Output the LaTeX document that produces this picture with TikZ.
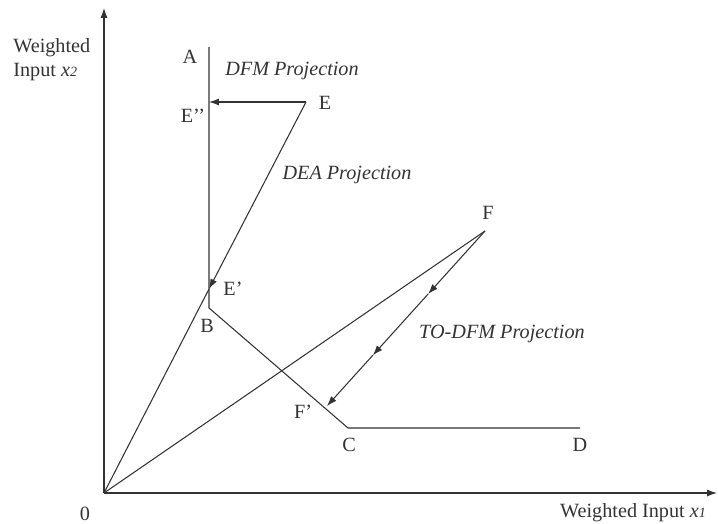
\documentclass[tikz,border=0pt]{standalone}
\usepackage{fontspec}
\setmainfont{Liberation Serif}
\usetikzlibrary{arrows.meta, calc}
\definecolor{inkgray}{gray}{0.2}

\begin{document}
\begin{tikzpicture}[
        x=0.02cm,
        y=-0.02cm,
        axis/.style={line width=0.6pt, inkgray, -{Latex[length=2mm, width=1.4mm]}},
        frontier/.style={line width=0.6pt, inkgray},
        ray/.style={line width=0.6pt, inkgray},
        proj/.style={line width=0.6pt, inkgray, -{Latex[length=2mm, width=1.4mm]}},
        pointlabel/.style={font=\fontsize{11.5}{13}\selectfont, text=inkgray, inner sep=0pt},
        projlabel/.style={font=\fontsize{11.5}{13}\selectfont\itshape, text=inkgray, inner sep=0pt},
        axislabel/.style={font=\fontsize{11.5}{13.6}\selectfont, text=inkgray, inner sep=0pt, align=left}
    ]
        \useasboundingbox (0,0) rectangle (718,524);

        % points of the figure
        \coordinate (O) at (104,493);
        \coordinate (xend) at (717,493);
        \coordinate (yend) at (104,8);
        \coordinate (A) at (209,47);
        \coordinate (B) at (209,308);
        \coordinate (C) at (348,428);
        \coordinate (D) at (580,428);
        \coordinate (E) at (306,102);
        \coordinate (Epp) at (209,102);
        \coordinate (Ep) at (209,289);
        \coordinate (F) at (485,231);
        \coordinate (Fp) at (327,406);
        \coordinate (Fm1) at ($(F)!0.36!(Fp)$);
        \coordinate (Fm2) at ($(F)!0.71!(Fp)$);

        % axes
        \draw[axis] (O) -- (xend);
        \draw[axis] (O) -- (yend);

        % frontier A-B-C-D
        \draw[frontier] (A) -- (B) -- (C) -- (D);

        % rays from the origin
        \draw[ray] (O) -- (Ep);
        \draw[ray] (O) -- (F);

        % projections
        \draw[proj] (E) -- (Epp);
        \draw[proj] (E) -- (Ep);
        \draw[proj] (F) -- (Fm1);
        \draw[proj] (Fm1) -- (Fm2);
        \draw[proj] (Fm2) -- (Fp);

        % labels
        \node[pointlabel] (lA) at (190,57) {A};
        \node[pointlabel] (lEpp) at (193,116) {E'{}'};
        \node[pointlabel] (lE) at (325,103) {E};
        \node[pointlabel] (lEp) at (233,289) {E'};
        \node[pointlabel] (lB) at (207,326) {B};
        \node[pointlabel] (lF) at (488,213) {F};
        \node[pointlabel] (lFp) at (303,412) {F'};
        \node[pointlabel] (lC) at (349,445) {C};
        \node[pointlabel] (lD) at (580,445) {D};
        \node[pointlabel] (lO) at (85,514) {0};

        \node[projlabel] (dfm) at (292,71) {DFM Projection};
        \node[projlabel] (dea) at (347,175) {DEA Projection};
        \node[projlabel] (todfm) at (502,334) {TO-DFM Projection};

        \node[axislabel, anchor=west] (ylab) at (13,60)
            {Weighted\\Input \textit{x}{\fontsize{8}{9}\selectfont\textit{2}}};
        \node[axislabel] (xlab) at (633,513)
            {Weighted Input \textit{x}{\fontsize{8}{9}\selectfont\textit{1}}};
\end{tikzpicture}
\end{document}
